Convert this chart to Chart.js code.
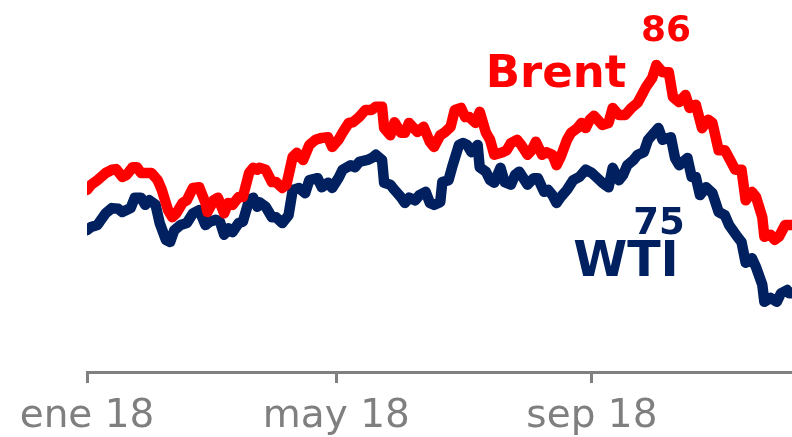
<!DOCTYPE html>
<html lang="es">
<head>
<meta charset="utf-8">
<title>Brent y WTI 2018</title>
<script src="https://cdn.jsdelivr.net/npm/chart.js@4.4.1/dist/chart.umd.min.js"></script>
<style>
    html, body { margin: 0; padding: 0; background: #fff; }
    #wrap { width: 792px; height: 437px; position: relative; }
</style>
</head>
<body>
<div id="wrap"><canvas id="petroleoChart"></canvas></div>
<script>
// ===== DATOS =====
// dias desde el 1 de enero de 2018
const tickDays = [0, 120, 243];
const tickLabels = ['ene 18', 'may 18', 'sep 18'];

const brentDays = [0, 2, 5, 9, 12, 14, 17, 19, 22, 24,
    26, 29, 31, 34, 36, 39, 41, 43, 46, 48,
    51, 54, 57, 58, 61, 63, 66, 68, 70, 73,
    75, 78, 80, 82, 83, 86, 89, 91, 94, 96,
    99, 101, 104, 107, 110, 113, 116, 118, 121, 123,
    126, 128, 131, 134, 137, 139, 142, 143, 146, 148,
    151, 153, 155, 159, 162, 165, 167, 170, 172, 175,
    177, 180, 182, 184, 187, 189, 192, 194, 196, 200,
    202, 204, 207, 209, 212, 214, 216, 219, 221, 224,
    226, 228, 231, 233, 236, 238, 240, 242, 244, 248,
    251, 253, 256, 259, 262, 265, 267, 269, 272, 274,
    277, 280, 282, 285, 288, 290, 293, 296, 299, 301,
    304, 307, 309, 312, 315, 317, 320, 322, 325, 326,
    329, 331, 333, 336, 338, 341];
const brentPrice = [66.5, 67.3, 68.0, 69.1, 69.6, 69.7, 68.5, 68.8, 70.0, 70.0,
    69.1, 69.1, 69.1, 68.0, 66.5, 63.4, 62.3, 62.9, 64.5, 64.9,
    66.8, 66.9, 64.5, 63.1, 64.9, 65.3, 62.9, 64.5, 64.2, 65.4,
    65.4, 69.1, 69.9, 69.6, 69.9, 69.6, 67.7, 67.7, 66.8, 67.3,
    71.6, 72.2, 71.1, 73.4, 74.2, 74.5, 74.6, 73.1, 74.2, 75.3,
    76.8, 76.9, 77.7, 78.8, 78.8, 79.3, 79.3, 76.0, 74.9, 76.9,
    75.3, 75.3, 76.8, 75.4, 76.2, 73.9, 73.1, 74.9, 75.3, 76.2,
    78.8, 79.1, 77.7, 77.7, 76.8, 78.5, 75.3, 74.2, 71.9, 72.3,
    72.6, 73.7, 74.2, 73.4, 71.9, 72.6, 73.9, 71.9, 72.3, 71.9,
    70.3, 71.6, 74.2, 75.3, 76.0, 76.8, 76.0, 77.3, 77.9, 76.5,
    76.8, 79.1, 78.0, 78.0, 79.1, 79.9, 81.1, 82.3, 83.7, 85.7,
    84.6, 84.6, 80.8, 80.0, 81.1, 79.1, 79.6, 76.0, 77.3, 76.8,
    72.6, 72.6, 71.4, 69.6, 69.6, 64.9, 66.2, 65.4, 62.3, 59.3,
    59.6, 58.8, 59.3, 61.1, 61.1, 61.1];

const wtiDays = [0, 2, 5, 9, 12, 15, 17, 21, 23, 26,
    28, 30, 33, 35, 38, 40, 42, 45, 48, 51,
    54, 57, 59, 62, 64, 66, 68, 70, 73, 75,
    78, 80, 82, 83, 86, 89, 91, 94, 97, 99,
    102, 105, 107, 111, 113, 116, 118, 121, 123, 127,
    129, 131, 135, 137, 139, 142, 143, 146, 148, 151,
    153, 155, 158, 160, 163, 165, 167, 170, 171, 174,
    176, 179, 181, 183, 185, 188, 189, 192, 194, 196,
    199, 201, 204, 206, 208, 212, 215, 217, 220, 222,
    224, 226, 228, 231, 234, 237, 240, 243, 248, 251,
    253, 256, 258, 260, 263, 265, 268, 270, 273, 275,
    277, 281, 283, 285, 289, 291, 293, 295, 298, 301,
    304, 307, 309, 313, 315, 317, 320, 322, 325, 326,
    329, 332, 334, 337, 338, 341];
const wtiPrice = [60.3, 60.8, 61.1, 62.9, 63.7, 63.6, 63.1, 63.7, 65.3, 65.3,
    64.2, 64.9, 64.2, 61.4, 58.8, 58.5, 60.3, 61.1, 61.4, 62.9,
    63.4, 61.1, 61.6, 61.9, 61.6, 59.6, 60.6, 60.0, 61.4, 61.6,
    64.9, 65.3, 63.9, 64.6, 63.9, 62.3, 62.3, 61.4, 62.6, 66.5,
    66.8, 66.0, 68.0, 68.3, 66.9, 67.6, 66.8, 68.3, 69.6, 70.3,
    70.0, 70.8, 71.1, 71.4, 71.9, 71.1, 67.6, 67.3, 66.5, 65.4,
    64.5, 65.3, 64.9, 65.7, 66.2, 64.5, 64.2, 64.6, 67.7, 68.0,
    70.3, 73.4, 73.7, 73.4, 72.3, 73.4, 70.0, 69.3, 68.0, 67.6,
    69.9, 67.7, 67.3, 68.8, 69.3, 67.3, 68.3, 68.3, 66.2, 66.5,
    65.7, 64.5, 65.4, 66.5, 68.0, 68.5, 69.6, 69.1, 67.6, 66.9,
    69.9, 68.0, 68.8, 70.3, 71.1, 71.9, 72.3, 74.2, 75.3, 76.0,
    74.2, 74.6, 71.4, 70.3, 71.4, 68.5, 68.5, 65.7, 66.9, 66.0,
    63.1, 62.6, 61.1, 59.3, 58.5, 55.3, 56.0, 54.6, 51.9, 49.3,
    49.9, 49.3, 50.6, 51.1, 50.6, 50.6];

// etiquetas escritas sobre el grafico
const seriesNames = ['Brent', 'WTI'];
const peakLabels = ['86', '75'];
const seriesColors = ['#ff0000', '#002060'];

// ===== HELPERS =====
function toPoints(days, values) {
    return days.map(function (d, i) {
        return { x: d, y: values[i] };
    });
}

// textos "Brent", "86", "WTI", "75"
const etiquetasPlugin = {
    id: 'etiquetas',
    afterDatasetsDraw: function (chart) {
        const ctx = chart.ctx;
        ctx.save();
        ctx.textAlign = 'center';
        ctx.textBaseline = 'alphabetic';

        // Brent
        ctx.fillStyle = seriesColors[0];
        ctx.font = 'bold 45px "DejaVu Sans"';
        ctx.fillText(seriesNames[0], 556, 87);
        ctx.font = 'bold 36px "DejaVu Sans"';
        ctx.fillText(peakLabels[0], 666, 41);

        // WTI
        ctx.fillStyle = seriesColors[1];
        ctx.font = 'bold 49px "DejaVu Sans"';
        ctx.fillText(seriesNames[1], 626, 276);
        ctx.font = 'bold 37px "DejaVu Sans"';
        ctx.fillText(peakLabels[1], 659, 234);

        ctx.restore();
    }
};

// ===== GRAFICO =====
const ctx = document.getElementById('petroleoChart').getContext('2d');
const petroleoChart = new Chart(ctx, {
    type: 'line',
    data: {
        datasets: [{
            label: seriesNames[0],
            data: toPoints(brentDays, brentPrice),
            borderColor: seriesColors[0],
            borderWidth: 10.5,
            borderJoinStyle: 'round',
            borderCapStyle: 'round',
            pointRadius: 0,
            tension: 0,
            fill: false
        }, {
            label: seriesNames[1],
            data: toPoints(wtiDays, wtiPrice),
            borderColor: seriesColors[1],
            borderWidth: 10.5,
            borderJoinStyle: 'round',
            borderCapStyle: 'round',
            pointRadius: 0,
            tension: 0,
            fill: false
        }]
    },
    options: {
        responsive: true,
        maintainAspectRatio: false,
        animation: false,
        layout: {
            padding: { left: 87, right: 0, top: 0, bottom: 0 }
        },
        plugins: {
            legend: { display: false },
            tooltip: { enabled: false }
        },
        scales: {
            x: {
                type: 'linear',
                min: 0,
                max: 339.3,
                afterBuildTicks: function (scale) {
                    scale.ticks = tickDays.map(function (d) { return { value: d }; });
                },
                afterFit: function (scale) {
                    scale.height = 65;
                },
                ticks: {
                    autoSkip: false,
                    maxRotation: 0,
                    padding: 10,
                    color: '#7f7f7f',
                    font: { family: '"DejaVu Sans"', size: 39 },
                    callback: function (value) {
                        const i = tickDays.indexOf(value);
                        return i >= 0 ? tickLabels[i] : '';
                    }
                },
                grid: {
                    drawOnChartArea: false,
                    drawTicks: true,
                    tickLength: 11,
                    tickWidth: 3,
                    tickColor: '#808080'
                },
                border: {
                    display: true,
                    color: '#808080',
                    width: 3
                }
            },
            y: {
                display: false,
                min: 38.5,
                max: 95.7
            }
        }
    },
    plugins: [etiquetasPlugin]
});
</script>
</body>
</html>
